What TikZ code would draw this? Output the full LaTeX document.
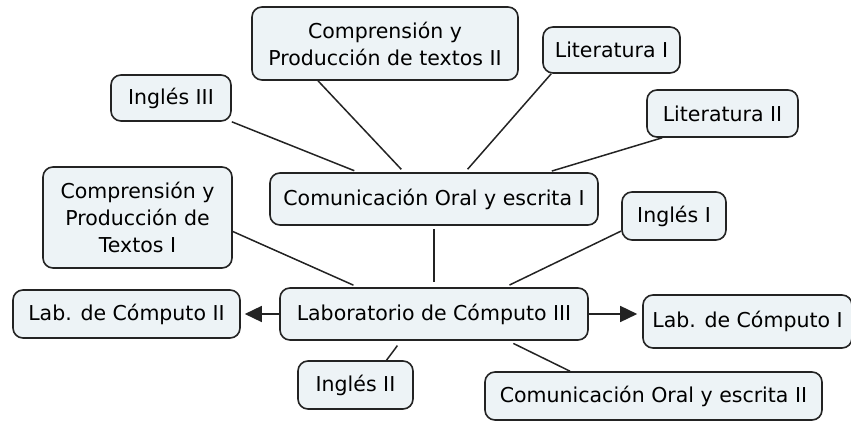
\documentclass[tikz,border=0pt]{standalone}
\usepackage{fontspec}
\setmainfont{DejaVu Sans}
\usetikzlibrary{arrows.meta,calc}

\definecolor{cmapfill}{RGB}{237,243,246}
\definecolor{cmapline}{RGB}{35,35,35}

\tikzset{
  concepto/.style={draw=cmapline, line width=1.6pt, rounded corners=10pt,
    fill=cmapfill, align=center, inner sep=0pt,
    font=\fontsize{20.5}{27}\selectfont},
  enlace/.style={draw=cmapline, line width=1.5pt},
  flecha/.style={enlace, -{Triangle[length=17pt,width=16pt]}}
}

\begin{document}
\begin{tikzpicture}[x=1pt,y=-1pt]
  \useasboundingbox (0,0) rectangle (851,422);
  % upper concepts
  \node[concepto, minimum width=266, minimum height=73] (cpt2) at (385,43.5) {Comprensión y\\Producción de textos II};
  \node[concepto, minimum width=137, minimum height=46] (lit1) at (611.5,50) {Literatura I};
  \node[concepto, minimum width=120, minimum height=46] (ing3) at (171,98) {Inglés III};
  \node[concepto, minimum width=151, minimum height=47] (lit2) at (722.5,113.5) {Literatura II};
  % middle row
  \node[concepto, minimum width=328, minimum height=52] (com1) at (434,199) {Comunicación Oral y escrita I};
  \node[concepto, minimum width=189, minimum height=101] (cpt1) at (137.5,217.5) {Comprensión y\\Producción de\\Textos I};
  \node[concepto, minimum width=104, minimum height=48] (ing1) at (674,216) {Inglés I};
  % central concept and neighbours
  \node[concepto, minimum width=308, minimum height=52] (lab3) at (434,314) {Laboratorio de Cómputo III};
  \node[concepto, minimum width=227, minimum height=48] (lab2) at (126.5,314) {Lab. de Cómputo II};
  \node[concepto, minimum width=209, minimum height=53] (lab1) at (747.5,321.5) {Lab. de Cómputo I};
  \node[concepto, minimum width=115, minimum height=48] (ing2) at (355.5,385) {Inglés II};
  \node[concepto, minimum width=337, minimum height=48] (com2) at (653.5,396) {Comunicación Oral y escrita II};

  % links into Comunicacion Oral y escrita I
  \draw[enlace, shorten >=4pt] (ing3.south east) -- ($(com1.north)+(-76,0)$);
  \draw[enlace, shorten >=4pt] ($(cpt2.south)+(-67,0)$) -- ($(com1.north)+(-30,0)$);
  \draw[enlace, shorten >=4pt] ($(lit1.south west)+(9,0)$) -- ($(com1.north)+(31,0)$);
  \draw[enlace, shorten >=4pt] ($(lit2.south west)+(16,0)$) -- ($(com1.north)+(114,0)$);
  % links into Laboratorio de Computo III
  \draw[enlace, shorten <=3pt, shorten >=5pt] (com1.south) -- (lab3.north);
  \draw[enlace, shorten >=5pt] ($(cpt1.east)+(0,14)$) -- ($(lab3.north)+(-76,0)$);
  \draw[enlace, shorten >=5pt] ($(ing1.west)+(0,15)$) -- ($(lab3.north)+(71,0)$);
  % links out of Laboratorio de Computo III
  \draw[enlace, shorten <=6pt] ($(lab3.south)+(-33,0)$) -- ($(ing2.north)+(31,0)$);
  \draw[enlace, shorten <=6pt] ($(lab3.south)+(74,0)$) -- ($(com2.north)+(-83.5,0)$);
  \draw[flecha, shorten >=4pt] (lab3.west) -- (lab2.east);
  \draw[flecha, shorten >=5pt] (lab3.east) -- (lab3.east -| lab1.west);
\end{tikzpicture}
\end{document}
